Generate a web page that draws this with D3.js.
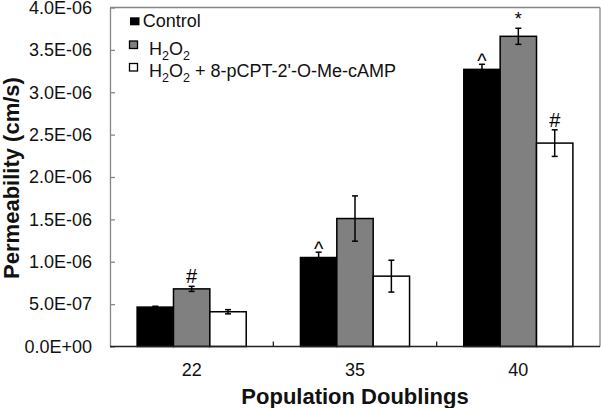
<!DOCTYPE html>
<html>
<head>
<meta charset="utf-8">
<script src="https://cdn.jsdelivr.net/npm/d3@7"></script>
<style>
  html, body { margin: 0; padding: 0; background: #fff; }
  svg { display: block; font-family: "Liberation Sans", Arial, sans-serif; }
</style>
</head>
<body>
<svg id="chart" width="601" height="408"></svg>
<script>
// ---- data ----
const categories = ["22", "35", "40"];
const seriesNames = ["Control", "H2O2", "H2O2 + 8-pCPT-2'-O-Me-cAMP"];
const controlValues = [4.65e-7, 1.05e-6, 3.27e-6];
const h2o2Values    = [6.8e-7, 1.51e-6, 3.66e-6];
const campValues    = [4.1e-7, 8.3e-7, 2.40e-6];
const controlErrors = [0.1e-7, 0.63e-7, 0.6e-7];
const h2o2Errors    = [0.3e-7, 2.67e-7, 0.95e-7];
const campErrors    = [0.25e-7, 1.88e-7, 1.57e-7];
const controlMarks  = ["", "^", "^"];
const h2o2Marks     = ["#", "", "*"];
const campMarks     = ["", "", "#"];
const yTicks = [0, 5e-7, 1e-6, 1.5e-6, 2e-6, 2.5e-6, 3e-6, 3.5e-6, 4e-6];
const yTickLabels = ["0.0E+00", "5.0E-07", "1.0E-06", "1.5E-06", "2.0E-06", "2.5E-06", "3.0E-06", "3.5E-06", "4.0E-06"];

const seriesValues = [controlValues, h2o2Values, campValues];
const seriesErrors = [controlErrors, h2o2Errors, campErrors];
const seriesMarks = [controlMarks, h2o2Marks, campMarks];
const fills = ["#000000", "#808080", "#ffffff"];

// ---- layout ----
const pLeft = 110, pRight = 600, pTop = 7.5, pBottom = 346.5;
const svg = d3.select("#chart");

const x0 = d3.scaleBand().domain(categories).range([pLeft, pRight]).padding(0);
const bw = x0.bandwidth();
const x1 = d3.scaleBand().domain(d3.range(3)).range([bw * 0.166, bw * 0.834]).padding(0);
const y = d3.scaleLinear().domain([0, 4e-6]).range([pBottom, pTop]);

const frame = "#868686";

// frame top/right
svg.append("line").attr("x1", pLeft).attr("x2", pRight).attr("y1", pTop).attr("y2", pTop)
  .attr("stroke", frame).attr("stroke-width", 1.3);
svg.append("line").attr("x1", pRight).attr("x2", pRight).attr("y1", pTop).attr("y2", pBottom)
  .attr("stroke", frame).attr("stroke-width", 1.3);

// y axis
const yAxis = d3.axisLeft(y).tickValues(yTicks)
  .tickFormat((d, i) => yTickLabels[i]).tickSizeInner(-5).tickSizeOuter(0).tickPadding(18);
const gy = svg.append("g").attr("transform", `translate(${pLeft},0)`).call(yAxis);
gy.select(".domain").attr("stroke", frame).attr("stroke-width", 1.3);
gy.selectAll(".tick line").attr("stroke", frame).attr("stroke-width", 1.3);
gy.selectAll(".tick text").attr("font-size", 18).attr("fill", "#111")
  .attr("font-family", "'Liberation Sans', Arial, sans-serif");

// bars
const data = [];
categories.forEach((c, ci) => {
  seriesValues.forEach((vals, si) => {
    data.push({ c, si, v: vals[ci], e: seriesErrors[si][ci], m: seriesMarks[si][ci] });
  });
});

const g = svg.append("g");
g.selectAll("rect.bar").data(data).enter().append("rect")
  .attr("class", "bar")
  .attr("x", d => x0(d.c) + x1(d.si))
  .attr("width", x1.bandwidth())
  .attr("y", d => y(d.v))
  .attr("height", d => y(0) - y(d.v))
  .attr("fill", d => fills[d.si])
  .attr("stroke", "#000").attr("stroke-width", 1.5);

// error bars
const cap = 3;
const cx = d => x0(d.c) + x1(d.si) + x1.bandwidth() / 2;
const eb = g.selectAll("g.err").data(data).enter().append("g").attr("class", "err");
eb.append("line")
  .attr("x1", cx).attr("x2", cx)
  .attr("y1", d => y(d.v + d.e)).attr("y2", d => y(d.v - d.e))
  .attr("stroke", "#000").attr("stroke-width", 1.5);
[1, -1].forEach(sgn => {
  eb.append("line")
    .attr("x1", d => cx(d) - cap).attr("x2", d => cx(d) + cap)
    .attr("y1", d => y(d.v + sgn * d.e)).attr("y2", d => y(d.v + sgn * d.e))
    .attr("stroke", "#000").attr("stroke-width", 1.5);
});

// significance marks
g.selectAll("text.mark").data(data.filter(d => d.m)).enter().append("text")
  .attr("class", "mark")
  .attr("x", cx)
  .attr("y", d => y(d.v + d.e) - (d.m === "^" ? -4 : 3))
  .attr("text-anchor", "middle")
  .attr("font-size", d => d.m === "*" ? 18 : 20)
  .attr("fill", "#000")
  .text(d => d.m);

// x axis (bottom)
svg.append("line").attr("x1", pLeft).attr("x2", pRight).attr("y1", pBottom).attr("y2", pBottom)
  .attr("stroke", "#222").attr("stroke-width", 1.3);
const sepTicks = categories.slice(1).map(c => x0(c));
svg.selectAll("line.sep").data(sepTicks).enter().append("line")
  .attr("x1", d => d).attr("x2", d => d).attr("y1", pBottom).attr("y2", pBottom - 5)
  .attr("stroke", "#222").attr("stroke-width", 1.3);
svg.selectAll("text.xlab").data(categories).enter().append("text")
  .attr("x", d => x0(d) + bw / 2).attr("y", 376)
  .attr("text-anchor", "middle").attr("font-size", 18).attr("fill", "#111")
  .text(d => d);

// axis titles
svg.append("text").attr("x", (pLeft + pRight) / 2).attr("y", 403.5)
  .attr("text-anchor", "middle").attr("font-size", 22).attr("font-weight", "bold")
  .attr("fill", "#111").text("Population Doublings");
svg.append("text").attr("transform", "translate(19,178) rotate(-90)")
  .attr("text-anchor", "middle").attr("font-size", 22).attr("font-weight", "bold")
  .attr("fill", "#111").text("Permeability (cm/s)");

// legend
const legend = svg.append("g");
const legRows = [
  { sq: [130, 17.3, 9.5, 8], tx: 142.7, by: 26.7 },
  { sq: [129.5, 41, 8, 7.5], tx: 149, by: 55 },
  { sq: [129.5, 63.5, 8, 7.5], tx: 149, by: 76.7 }
];
legRows.forEach((r, i) => {
  legend.append("rect").attr("x", r.sq[0]).attr("y", r.sq[1]).attr("width", r.sq[2]).attr("height", r.sq[3])
    .attr("fill", fills[i]).attr("stroke", "#000").attr("stroke-width", i === 0 ? 0 : 1.3);
  const t = legend.append("text").attr("x", r.tx).attr("y", r.by).attr("font-size", 18).attr("fill", "#111");
  const name = seriesNames[i];
  const parts = name.split(/(H2O2)/).filter(p => p.length);
  let pendingDy = 0;
  parts.forEach(p => {
    if (p === "H2O2") {
      t.append("tspan").attr("dy", pendingDy || null).text("H");
      t.append("tspan").attr("font-size", 12.5).attr("dy", 5).text("2");
      t.append("tspan").attr("dy", -5).text("O");
      t.append("tspan").attr("font-size", 12.5).attr("dy", 5).text("2");
      pendingDy = -5;
    } else {
      t.append("tspan").attr("dy", pendingDy || null).text(p);
      pendingDy = 0;
    }
  });
});
</script>
</body>
</html>
